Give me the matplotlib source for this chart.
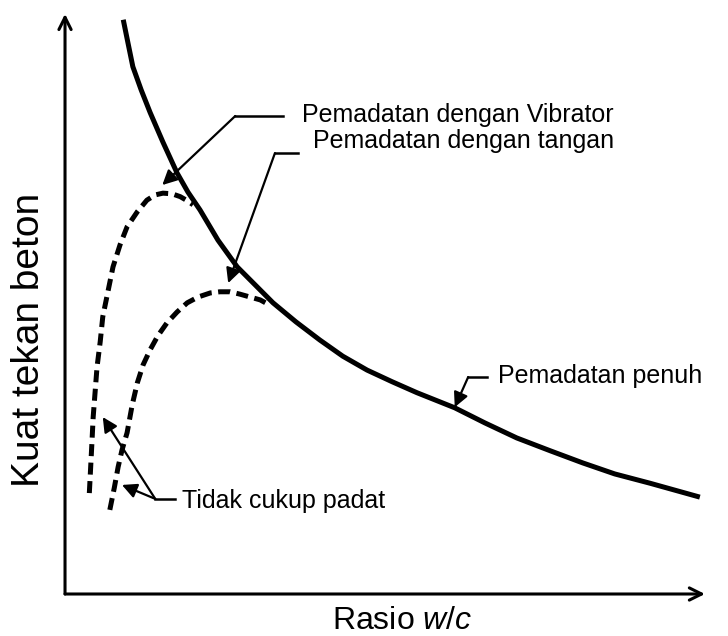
import matplotlib
matplotlib.use("Agg")
import matplotlib.pyplot as plt

plt.rcParams['font.family'] = ['Liberation Sans', 'DejaVu Sans']
plt.rcParams['mathtext.fontset'] = 'custom'
plt.rcParams['mathtext.it'] = 'Liberation Sans:italic'
plt.rcParams['mathtext.rm'] = 'Liberation Sans'

# full compaction curve (w/c ratio vs strength, arbitrary units)
full_wc = [0.91, 0.98, 1.06, 1.19, 1.33, 1.53, 1.75, 1.92, 2.11, 2.39, 2.69, 2.97, 3.25, 3.61,
           3.98, 4.34, 4.72, 5.11, 5.50, 6.09, 6.56, 7.06, 7.58, 8.09, 8.59, 9.14, 9.53, 9.92]
full_str = [9.90, 9.52, 9.09, 8.69, 8.30, 7.79, 7.26, 6.93, 6.62, 6.10, 5.64, 5.33, 5.02, 4.69,
            4.38, 4.10, 3.86, 3.66, 3.47, 3.21, 2.95, 2.69, 2.47, 2.26, 2.07, 1.91, 1.79, 1.67]

# vibrator compaction
vib_wc = [0.38, 0.42, 0.44, 0.47, 0.50, 0.55, 0.59, 0.67, 0.75, 0.86, 0.97, 1.13, 1.28,
          1.41, 1.53, 1.67, 1.80, 1.91, 2.00]
vib_str = [1.74, 2.60, 3.05, 3.48, 3.91, 4.35, 4.78, 5.21, 5.64, 6.02, 6.33, 6.59, 6.79,
           6.88, 6.91, 6.90, 6.85, 6.78, 6.71]

# hand compaction
hand_wc = [0.70, 0.77, 0.83, 0.89, 0.97, 1.05, 1.13, 1.22, 1.33, 1.45, 1.59, 1.75, 1.91,
           2.08, 2.27, 2.42, 2.58, 2.73, 2.89, 3.05, 3.20]
hand_str = [1.45, 1.83, 2.19, 2.48, 2.78, 3.26, 3.64, 3.95, 4.21, 4.45, 4.67, 4.86, 5.02,
            5.12, 5.19, 5.21, 5.21, 5.17, 5.12, 5.07, 4.98]

fig = plt.figure(figsize=(7.28, 6.36), dpi=100)
ax = fig.add_axes([0, 0, 1, 1])
ax.set_xlim(-1.016, 10.36)
ax.set_ylim(-0.724, 10.24)
ax.axis('off')

# axes with arrow heads
ax.annotate('', xy=(10.0, 0), xytext=(0, 0),
            arrowprops=dict(arrowstyle='->', lw=2.2, color='black', mutation_scale=22,
                            shrinkA=0, shrinkB=0))
ax.annotate('', xy=(0, 10.0), xytext=(0, 0),
            arrowprops=dict(arrowstyle='->', lw=2.2, color='black', mutation_scale=22,
                            shrinkA=0, shrinkB=0))

ax.plot(full_wc, full_str, color='black', lw=3.6, solid_capstyle='butt', solid_joinstyle='round')
ax.plot(vib_wc, vib_str, color='black', lw=3.6, linestyle=(0, (2.4, 1.3)))
ax.plot(hand_wc, hand_str, color='black', lw=3.6, linestyle=(0, (2.4, 1.3)))

arr = dict(arrowstyle='-|>', lw=1.6, color='black', mutation_scale=22,
           shrinkA=0, shrinkB=0)

def leader(tip, elbow, end, text_xy, label):
    ax.plot([elbow[0], end[0]], [elbow[1], end[1]], color='black', lw=1.8)
    ax.annotate('', xy=tip, xytext=elbow, arrowprops=arr)
    ax.text(text_xy[0], text_xy[1], label, fontsize=18, va='baseline', ha='left')

leader((1.52, 7.05), (2.66, 8.24), (3.41, 8.24), (3.70, 8.14), 'Pemadatan dengan Vibrator')
leader((2.55, 5.36), (3.28, 7.60), (3.64, 7.60), (3.88, 7.69), 'Pemadatan dengan tangan')
leader((6.09, 3.22), (6.30, 3.74), (6.59, 3.74), (6.77, 3.64), 'Pemadatan penuh')
leader((0.59, 3.05), (1.41, 1.64), (1.72, 1.64), (1.83, 1.48), 'Tidak cukup padat')
ax.annotate('', xy=(0.89, 1.88), xytext=(1.41, 1.64), arrowprops=arr)

ax.text(5.27, -0.60, 'Rasio $w/c$', fontsize=23, ha='center', va='baseline')
ax.text(-0.56, 4.38, 'Kuat tekan beton', fontsize=28, ha='center', va='center', rotation=90)

fig.savefig('out.png', dpi=100)
